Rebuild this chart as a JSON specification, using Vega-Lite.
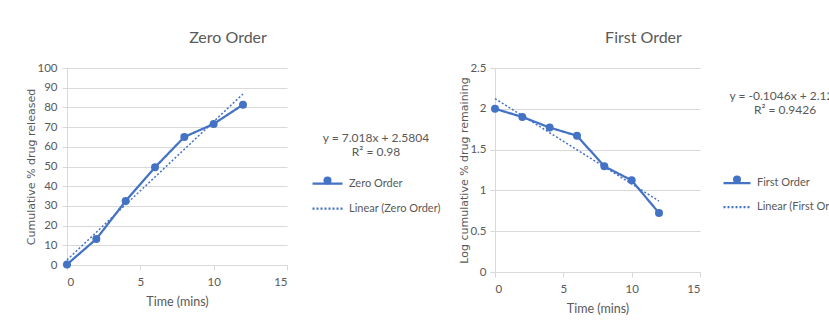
{
  "$schema": "https://vega.github.io/schema/vega-lite/v6.json",
  "background": "white",
  "padding": {"left": 25, "top": 30, "right": 0, "bottom": 0},
  "spacing": 17,
  "datasets": {
    "zero": [
      {"t": 0, "v": 0.3, "series": "Zero Order", "marker": "Zero Order"},
      {"t": 2, "v": 13.2, "series": "Zero Order", "marker": "Zero Order"},
      {"t": 4, "v": 32.5, "series": "Zero Order", "marker": "Zero Order"},
      {"t": 6, "v": 49.6, "series": "Zero Order", "marker": "Zero Order"},
      {"t": 8, "v": 65.0, "series": "Zero Order", "marker": "Zero Order"},
      {"t": 10, "v": 71.6, "series": "Zero Order", "marker": "Zero Order"},
      {"t": 12, "v": 81.4, "series": "Zero Order", "marker": "Zero Order"}
    ],
    "zeroTrend": [
      {"t": 0, "v": 2.58, "series": "Linear (Zero Order)"},
      {"t": 12, "v": 86.8, "series": "Linear (Zero Order)"}
    ],
    "first": [
      {"t": 0, "v": 2.0, "series": "First Order", "marker": "First Order"},
      {"t": 2, "v": 1.9, "series": "First Order", "marker": "First Order"},
      {"t": 4, "v": 1.77, "series": "First Order", "marker": "First Order"},
      {"t": 6, "v": 1.67, "series": "First Order", "marker": "First Order"},
      {"t": 8, "v": 1.295, "series": "First Order", "marker": "First Order"},
      {"t": 10, "v": 1.123, "series": "First Order", "marker": "First Order"},
      {"t": 12, "v": 0.723, "series": "First Order", "marker": "First Order"}
    ],
    "firstTrend": [
      {"t": 0, "v": 2.125, "series": "Linear (First Order)"},
      {"t": 12, "v": 0.87, "series": "Linear (First Order)"}
    ]
  },
  "config": {
    "view": {"stroke": null},
    "axis": {
      "gridColor": "#d9d9d9",
      "domainColor": "#d9d9d9",
      "tickColor": "#d9d9d9",
      "tickSize": 5,
      "labelColor": "#595959",
      "labelFont": "Lato",
      "labelFontSize": 11.5,
      "labelOverlap": false,
      "titleColor": "#595959",
      "titleFontWeight": "normal"
    },
    "legend": {
      "labelFont": "Lato",
      "labelFontSize": 11,
      "labelColor": "#595959",
      "titleFont": "Lato",
      "titleFontSize": 12,
      "titleFontWeight": "normal",
      "titleColor": "#595959",
      "symbolType": "stroke",
      "symbolStrokeWidth": 2.25,
      "labelOffset": 5
    },
    "title": {
      "font": "Lato",
      "fontSize": 16,
      "fontWeight": "normal",
      "color": "#595959"
    }
  },
  "resolve": {
    "scale": {"color": "independent", "strokeDash": "independent", "shape": "independent"},
    "legend": {"color": "independent", "strokeDash": "independent", "shape": "independent"}
  },
  "hconcat": [
    {
      "width": 220,
      "height": 197,
      "title": {"text": "Zero Order", "dx": 51, "offset": 16, "frame": "group"},
      "layer": [
        {
          "data": {"name": "zero"},
          "mark": {"type": "line", "strokeWidth": 2.25},
          "encoding": {
            "x": {"field": "t", "type": "quantitative", "scale": {"domain": [0, 15], "nice": false},
              "axis": {"values": [0, 5, 10, 15], "tickCount": 4, "grid": false, "title": "Time (mins)", "titleFont": "Lato", "titleFontSize": 12.5, "labelPadding": 6, "titlePadding": 8}},
            "y": {"field": "v", "type": "quantitative", "scale": {"domain": [0, 100], "nice": false},
              "axis": {"values": [0, 10, 20, 30, 40, 50, 60, 70, 80, 90, 100], "tickCount": 11, "title": "Cumulative % drug released", "titleFont": "DejaVu Sans", "titleFontSize": 11, "labelPadding": 5, "titlePadding": 0}},
            "color": {
              "field": "series", "type": "nominal",
              "scale": {"domain": ["Zero Order", "Linear (Zero Order)"], "range": ["#4472C4", "#4472C4"]},
              "legend": {
                "title": ["y = 7.018x + 2.5804", "R² = 0.98"],
                "orient": "none", "legendX": 244, "legendY": 65,
                "titleAnchor": "middle", "titlePadding": 8,
                "symbolSize": 900, "rowPadding": 3
              }
            },
            "strokeDash": {
              "field": "series", "type": "nominal",
              "scale": {"domain": ["Zero Order", "Linear (Zero Order)"], "range": [[1, 0], [2, 2]]},
              "legend": {
                "title": ["y = 7.018x + 2.5804", "R² = 0.98"],
                "orient": "none", "legendX": 244, "legendY": 65,
                "titleAnchor": "middle", "titlePadding": 8,
                "symbolSize": 900, "rowPadding": 3
              }
            }
          }
        },
        {
          "data": {"name": "zero"},
          "mark": {"type": "point", "filled": true, "size": 64, "color": "#4472C4", "opacity": 1},
          "encoding": {
            "x": {"field": "t", "type": "quantitative"},
            "y": {"field": "v", "type": "quantitative"},
            "shape": {
              "field": "marker", "type": "nominal",
              "scale": {"range": ["circle"]},
              "legend": {"title": null, "orient": "none", "legendX": 255, "legendY": 107, "labelExpr": "''", "symbolType": "circle", "symbolSize": 64, "symbolFillColor": "#4472C4", "symbolStrokeWidth": 0, "symbolOpacity": 1}
            }
          }
        },
        {
          "data": {"name": "zeroTrend"},
          "mark": {"type": "line", "strokeWidth": 1.5},
          "encoding": {
            "x": {"field": "t", "type": "quantitative"},
            "y": {"field": "v", "type": "quantitative"},
            "color": {"field": "series", "type": "nominal"},
            "strokeDash": {"field": "series", "type": "nominal"}
          }
        }
      ]
    },
    {
      "width": 205,
      "height": 204,
      "title": {"text": "First Order", "dx": 46, "offset": 16, "frame": "group"},
      "layer": [
        {
          "data": {"name": "first"},
          "mark": {"type": "line", "strokeWidth": 2.25},
          "encoding": {
            "x": {"field": "t", "type": "quantitative", "scale": {"domain": [0, 15], "nice": false},
              "axis": {"values": [0, 5, 10, 15], "tickCount": 4, "grid": false, "title": "Time (mins)", "titleFont": "Lato", "titleFontSize": 12.5, "labelPadding": 6, "titlePadding": 8}},
            "y": {"field": "v", "type": "quantitative", "scale": {"domain": [0, 2.5], "nice": false},
              "axis": {"values": [0, 0.5, 1, 1.5, 2, 2.5], "tickCount": 6, "format": "~g", "title": "Log cumulative % drug remaining", "titleFont": "DejaVu Sans", "titleFontSize": 11, "labelPadding": 4, "titlePadding": 0}},
            "color": {
              "field": "series", "type": "nominal",
              "scale": {"domain": ["First Order", "Linear (First Order)"], "range": ["#4472C4", "#4472C4"]},
              "legend": {
                "title": ["y = -0.1046x + 2.125", "R² = 0.9426"],
                "orient": "none", "legendX": 227, "legendY": 23,
                "titleAnchor": "middle", "titlePadding": 51,
                "symbolSize": 729, "rowPadding": 4
              }
            },
            "strokeDash": {
              "field": "series", "type": "nominal",
              "scale": {"domain": ["First Order", "Linear (First Order)"], "range": [[1, 0], [2, 2]]},
              "legend": {
                "title": ["y = -0.1046x + 2.125", "R² = 0.9426"],
                "orient": "none", "legendX": 227, "legendY": 23,
                "titleAnchor": "middle", "titlePadding": 51,
                "symbolSize": 729, "rowPadding": 4
              }
            }
          }
        },
        {
          "data": {"name": "first"},
          "mark": {"type": "point", "filled": true, "size": 64, "color": "#4472C4", "opacity": 1},
          "encoding": {
            "x": {"field": "t", "type": "quantitative"},
            "y": {"field": "v", "type": "quantitative"},
            "shape": {
              "field": "marker", "type": "nominal",
              "scale": {"range": ["circle"]},
              "legend": {"title": null, "orient": "none", "legendX": 236.5, "legendY": 106, "labelExpr": "''", "symbolType": "circle", "symbolSize": 64, "symbolFillColor": "#4472C4", "symbolStrokeWidth": 0, "symbolOpacity": 1}
            }
          }
        },
        {
          "data": {"name": "firstTrend"},
          "mark": {"type": "line", "strokeWidth": 1.5},
          "encoding": {
            "x": {"field": "t", "type": "quantitative"},
            "y": {"field": "v", "type": "quantitative"},
            "color": {"field": "series", "type": "nominal"},
            "strokeDash": {"field": "series", "type": "nominal"}
          }
        }
      ]
    }
  ]
}
